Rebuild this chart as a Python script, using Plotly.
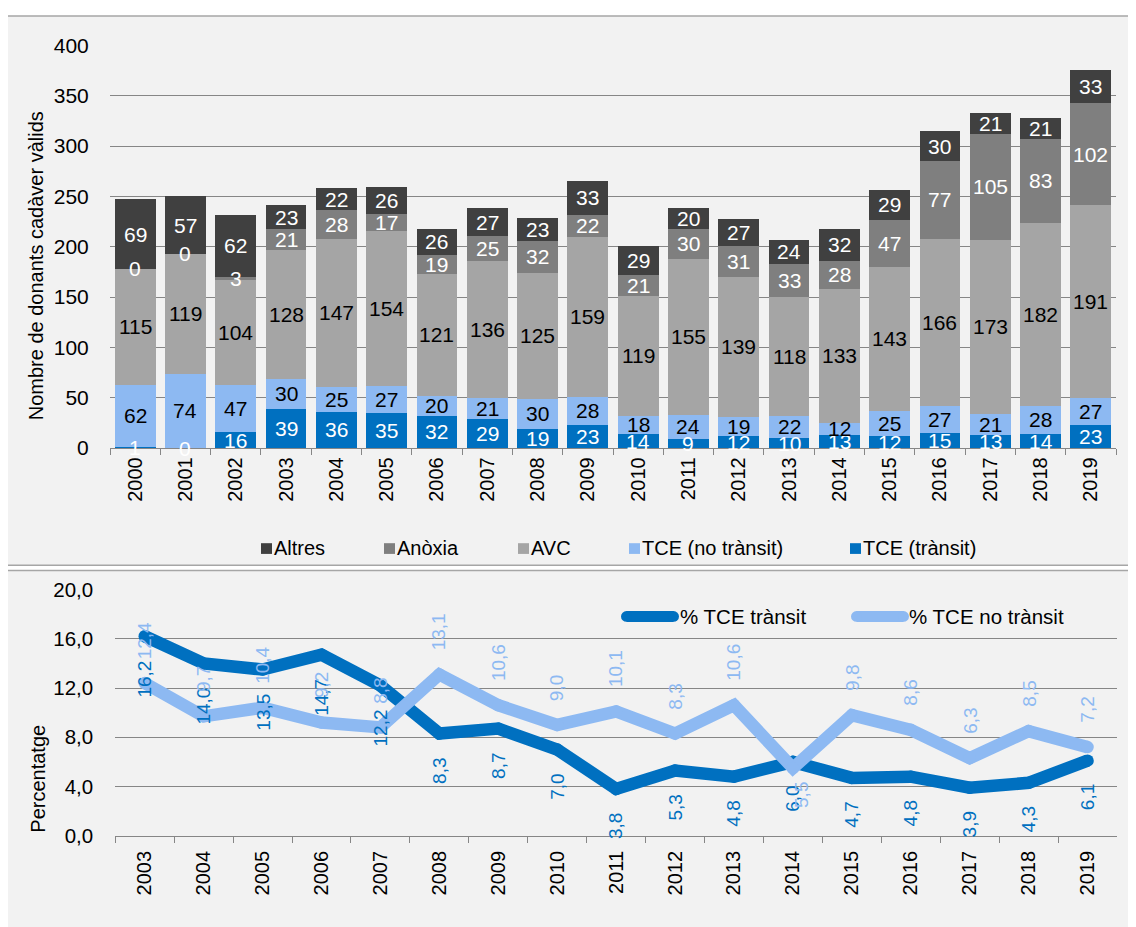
import plotly.graph_objects as go

# ---------------- data ----------------
years = [str(y) for y in range(2000, 2020)]
tce_transit = [1, 0, 16, 39, 36, 35, 32, 29, 19, 23, 14, 9, 12, 10, 13, 12, 15, 13, 14, 23]
tce_no_transit = [62, 74, 47, 30, 25, 27, 20, 21, 30, 28, 18, 24, 19, 22, 12, 25, 27, 21, 28, 27]
avc = [115, 119, 104, 128, 147, 154, 121, 136, 125, 159, 119, 155, 139, 118, 133, 143, 166, 173, 182, 191]
anoxia = [0, 0, 3, 21, 28, 17, 19, 25, 32, 22, 21, 30, 31, 33, 28, 47, 77, 105, 83, 102]
altres = [69, 57, 62, 23, 22, 26, 26, 27, 23, 33, 29, 20, 27, 24, 32, 29, 30, 21, 21, 33]

pct_years = [str(y) for y in range(2003, 2020)]
pct_transit = [16.2, 14.0, 13.5, 14.7, 12.2, 8.3, 8.7, 7.0, 3.8, 5.3, 4.8, 6.0, 4.7, 4.8, 3.9, 4.3, 6.1]
pct_no_transit = [12.4, 9.7, 10.4, 9.2, 8.8, 13.1, 10.6, 9.0, 10.1, 8.3, 10.6, 5.5, 9.8, 8.6, 6.3, 8.5, 7.2]

bar_names = ["TCE (trànsit)", "TCE (no trànsit)", "AVC", "Anòxia", "Altres"]
line_names = ["% TCE trànsit", "% TCE no trànsit"]

# ---------------- style ----------------
W, H = 1136, 927
OFF = 8  # page body margin of the generated html
FONT = "Liberation Sans, Arial, sans-serif"
C_TR = "#0070C0"
C_NTR = "#8DB9F2"
C_AVC = "#A5A5A5"
C_ANX = "#7F7F7F"
C_ALT = "#404040"
GRID = "#868686"
PANEL_BG = "#F2F2F2"
PANEL_LINE = "#A6A6A6"
LW = 12.5
NO_TRANSIT_LABEL_BELOW = {"2014"}


def fx(px):
    return (px - OFF) / W


def fy(py):
    return 1 - (py - OFF) / H


series = [tce_transit, tce_no_transit, avc, anoxia, altres]
colors = [C_TR, C_NTR, C_AVC, C_ANX, C_ALT]
label_colors = ["white", "black", "black", "white", "white"]

fig = go.Figure()

for vals, name, col in zip(series, bar_names, colors):
    fig.add_trace(go.Bar(x=years, y=vals, name=name, marker=dict(color=col, line=dict(width=0)),
                         xaxis="x", yaxis="y", showlegend=False, hoverinfo="x+y+name"))

fig.add_trace(go.Scatter(x=pct_years, y=pct_transit, name=line_names[0], mode="lines+markers",
                         line=dict(color=C_TR, width=LW), marker=dict(size=LW, color=C_TR),
                         xaxis="x2", yaxis="y2", showlegend=False))
fig.add_trace(go.Scatter(x=pct_years, y=pct_no_transit, name=line_names[1], mode="lines+markers",
                         line=dict(color=C_NTR, width=LW), marker=dict(size=LW, color=C_NTR),
                         xaxis="x2", yaxis="y2", showlegend=False))

annotations = []
# bar labels (centered on each stacked segment); x is the category index
base = [0] * len(years)
for vals, lc in zip(series, label_colors):
    for i in range(len(years)):
        v = vals[i]
        c = lc
        if vals is tce_transit and tce_no_transit[i] > 40 and v < 5:
            c = "white"
        annotations.append(dict(x=i, y=base[i] + v / 2, xref="x", yref="y", text=str(v),
                                showarrow=False, font=dict(family=FONT, size=21, color=c)))
        base[i] += v


def fmt(v):
    return f"{v:.1f}".replace(".", ",")


for i, yr in enumerate(pct_years):
    annotations.append(dict(x=i, y=pct_transit[i], xref="x2", yref="y2", text=fmt(pct_transit[i]),
                            textangle=-90, showarrow=False, yanchor="top", yshift=-22,
                            font=dict(family=FONT, size=19, color=C_TR)))
    below = yr in NO_TRANSIT_LABEL_BELOW
    annotations.append(dict(x=i, y=pct_no_transit[i], xref="x2", yref="y2", text=fmt(pct_no_transit[i]),
                            textangle=-90, showarrow=False,
                            yanchor="top" if below else "bottom",
                            yshift=-12 if below else 22, xshift=8 if below else 0,
                            font=dict(family=FONT, size=19, color=C_NTR)))

# axis titles
annotations.append(dict(x=fx(35.5), y=fy(260), xref="paper", yref="paper", xanchor="center", yanchor="middle",
                        text="Nombre de donants cadàver vàlids", textangle=-90, showarrow=False,
                        font=dict(family=FONT, size=20, color="black")))
annotations.append(dict(x=fx(38), y=fy(786), xref="paper", yref="paper", xanchor="center", yanchor="middle",
                        text="Percentatge", textangle=-90, showarrow=False,
                        font=dict(family=FONT, size=20, color="black")))

shapes = []
# panels
shapes.append(dict(type="rect", xref="paper", yref="paper", x0=fx(7), x1=fx(1160), y0=fy(567), y1=fy(4),
                   fillcolor=PANEL_BG, line=dict(color=PANEL_LINE, width=1.5), layer="below"))
shapes.append(dict(type="rect", xref="paper", yref="paper", x0=fx(7), x1=fx(1160), y0=fy(960), y1=fy(572.5),
                   fillcolor=PANEL_BG, line=dict(color=PANEL_LINE, width=1.5), layer="below"))

# top legend (manual)
leg_items = [("Altres", C_ALT, 261), ("Anòxia", C_ANX, 384), ("AVC", C_AVC, 518),
             ("TCE (no trànsit)", C_NTR, 629), ("TCE (trànsit)", C_TR, 850)]
for txt, col, x0 in leg_items:
    shapes.append(dict(type="rect", xref="paper", yref="paper", x0=fx(x0), x1=fx(x0 + 11),
                       y0=fy(555.5), y1=fy(544.5), fillcolor=col, line=dict(width=0)))
    annotations.append(dict(x=fx(x0 + 11), y=fy(549.5), xref="paper", yref="paper", text=txt,
                            xanchor="left", yanchor="middle", showarrow=False,
                            font=dict(family=FONT, size=20, color="black")))

# bottom legend (manual)
for txt, col, x0, x1, xt in [(line_names[0], C_TR, 621, 679, 678), (line_names[1], C_NTR, 851, 909, 907)]:
    r = 5.5
    yc = 619.6
    shapes.append(dict(type="line", xref="paper", yref="paper", x0=fx(x0 + r), x1=fx(x1 - r),
                       y0=fy(yc), y1=fy(yc), line=dict(color=col, width=11)))
    for cx in (x0 + r, x1 - r):
        shapes.append(dict(type="circle", xref="paper", yref="paper", x0=fx(cx - r), x1=fx(cx + r),
                           y0=fy(yc + r), y1=fy(yc - r), fillcolor=col, line=dict(width=0)))
    annotations.append(dict(x=fx(xt), y=fy(yc), xref="paper", yref="paper", text=txt,
                            xanchor="left", yanchor="middle", showarrow=False,
                            font=dict(family=FONT, size=20.5, color="black")))

fig.update_layout(
    width=W, height=H, autosize=False,
    margin=dict(l=0, r=0, t=0, b=0),
    paper_bgcolor="white", plot_bgcolor="white",
    barmode="stack", bargap=0.19,
    separators=", ",
    font=dict(family=FONT, size=20, color="black"),
    showlegend=False,
    xaxis=dict(domain=[fx(110), fx(1116)], anchor="y", type="category", tickangle=-90,
               categoryorder="array", categoryarray=years, range=[-0.5, len(years) - 0.5],
               ticks="outside", tickson="boundaries", ticklen=6, tickcolor=GRID, tickwidth=1.3,
               showline=True, linecolor=GRID, linewidth=1.3, showgrid=False,
               tickfont=dict(family=FONT, size=20, color="black"), ticklabelstandoff=0),
    yaxis=dict(domain=[fy(447), fy(34)], anchor="x", range=[0, 400], dtick=50,
               showgrid=True, gridcolor=GRID, gridwidth=1.3, zeroline=False, showline=False,
               ticks="outside", ticklen=16, tickcolor="rgba(0,0,0,0)",
               tickfont=dict(family=FONT, size=21, color="black")),
    xaxis2=dict(domain=[fx(115.3), fx(1117)], anchor="y2", type="category", tickangle=-90,
                categoryorder="array", categoryarray=pct_years, range=[-0.5, len(pct_years) - 0.5],
                ticks="outside", tickson="boundaries", ticklen=6, tickcolor=GRID, tickwidth=1.3,
                showline=True, linecolor=GRID, linewidth=1.3, showgrid=False,
                tickfont=dict(family=FONT, size=20, color="black"), ticklabelstandoff=6),
    yaxis2=dict(domain=[fy(844.5), fy(592)], anchor="x2", range=[0, 20], dtick=4, tickformat=".1f",
                showgrid=True, gridcolor=GRID, gridwidth=1.3, zeroline=False, showline=False,
                ticks="outside", ticklen=17, tickcolor="rgba(0,0,0,0)",
                tickfont=dict(family=FONT, size=20.5, color="black")),
    annotations=annotations,
    shapes=shapes,
)

fig.write_html("out.html")
